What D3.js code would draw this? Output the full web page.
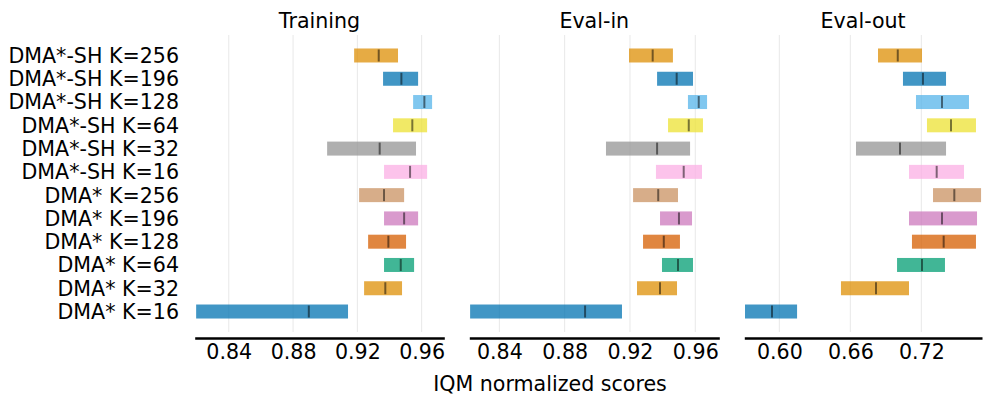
<!DOCTYPE html>
<html>
<head>
<meta charset="utf-8">
<script src="https://cdn.jsdelivr.net/npm/d3@7"></script>
<style>
  body { margin: 0; background: #fff; }
  svg { font-family: "DejaVu Sans", sans-serif; }
</style>
</head>
<body>
<svg id="chart" width="983" height="396"></svg>
<script>
// row labels, top to bottom
const labels = ["DMA*-SH K=256", "DMA*-SH K=196", "DMA*-SH K=128", "DMA*-SH K=64",
    "DMA*-SH K=32", "DMA*-SH K=16", "DMA* K=256", "DMA* K=196", "DMA* K=128",
    "DMA* K=64", "DMA* K=32", "DMA* K=16"];
const colors = ["#DE8F05", "#0173B2", "#56B4E9", "#ECE133", "#949494", "#FBAFE4",
    "#CA9161", "#CC78BC", "#D55E00", "#029E73", "#DE8F05", "#0173B2"];

const titles = ["Training", "Eval-in", "Eval-out"];

// lower CI / median / upper CI per panel
const trainLo = [0.9180, 0.9360, 0.9547, 0.9422, 0.9012, 0.9366, 0.9211, 0.9366, 0.9267, 0.9366, 0.9242, 0.8197];
const trainMed = [0.9333, 0.9474, 0.9617, 0.9542, 0.9339, 0.9528, 0.9366, 0.9491, 0.9393, 0.9470, 0.9374, 0.8898];
const trainHi = [0.9453, 0.9578, 0.9665, 0.9634, 0.9565, 0.9634, 0.9491, 0.9578, 0.9503, 0.9553, 0.9478, 0.9142];

const evalInLo = [0.9194, 0.9366, 0.9555, 0.9433, 0.9053, 0.9359, 0.9219, 0.9384, 0.9280, 0.9396, 0.9243, 0.8221];
const evalInMed = [0.9339, 0.9486, 0.9621, 0.9560, 0.9366, 0.9529, 0.9373, 0.9500, 0.9407, 0.9494, 0.9384, 0.8925];
const evalInHi = [0.9463, 0.9586, 0.9672, 0.9647, 0.9568, 0.9641, 0.9494, 0.9580, 0.9506, 0.9586, 0.9488, 0.9151];

const evalOutLo = [0.6834, 0.7045, 0.7155, 0.7248, 0.6648, 0.7096, 0.7299, 0.7096, 0.7121, 0.6995, 0.6521, 0.5710];
const evalOutMed = [0.7001, 0.7214, 0.7375, 0.7451, 0.7020, 0.7330, 0.7479, 0.7375, 0.7389, 0.7206, 0.6817, 0.5938];
const evalOutHi = [0.7206, 0.7409, 0.7603, 0.7662, 0.7409, 0.7561, 0.7705, 0.7671, 0.7662, 0.7400, 0.7096, 0.6150];

const tickVals = [[0.84, 0.88, 0.92, 0.96], [0.84, 0.88, 0.92, 0.96], [0.60, 0.66, 0.72]];
const domains = [[0.8188, 0.9741], [0.8216, 0.9747], [0.5704, 0.7713]];

const panels = [
    { lo: trainLo, med: trainMed, hi: trainHi, range: [194.7, 444.3] },
    { lo: evalInLo, med: evalInMed, hi: evalInHi, range: [469.3, 719.3] },
    { lo: evalOutLo, med: evalOutMed, hi: evalOutHi, range: [744.3, 982] }
];

const svg = d3.select("#chart");
const fontSize = 20.6;
const gridTop = 35, gridBottom = 332, axisY = 338;
const barH = 14, medH = 12;

const y = d3.scalePoint().domain(labels).range([gridTop, gridBottom]).padding(0.88);

// row labels
svg.append("g").selectAll("text").data(labels).join("text")
    .attr("x", 179)
    .attr("y", d => y(d))
    .attr("dy", "0.36em")
    .attr("text-anchor", "end")
    .attr("font-size", fontSize)
    .attr("fill", "#000")
    .text(d => d);

panels.forEach(function (p, k) {
    let x = d3.scaleLinear().domain(domains[k]).range(p.range);
    let g = svg.append("g");

    // vertical grid
    g.selectAll("line.grid").data(tickVals[k]).join("line")
        .attr("class", "grid")
        .attr("x1", d => x(d)).attr("x2", d => x(d))
        .attr("y1", gridTop).attr("y2", gridBottom)
        .attr("stroke", "#e8e8e8").attr("stroke-width", 1);

    // CI bars
    g.selectAll("rect").data(labels).join("rect")
        .attr("x", (d, i) => x(p.lo[i]))
        .attr("width", (d, i) => x(p.hi[i]) - x(p.lo[i]))
        .attr("y", d => y(d) - barH / 2)
        .attr("height", barH)
        .attr("fill", (d, i) => colors[i])
        .attr("fill-opacity", 0.75);

    // medians
    g.selectAll("line.med").data(labels).join("line")
        .attr("class", "med")
        .attr("x1", (d, i) => x(p.med[i])).attr("x2", (d, i) => x(p.med[i]))
        .attr("y1", d => y(d) - medH / 2).attr("y2", d => y(d) + medH / 2)
        .attr("stroke", "#000").attr("stroke-opacity", 0.5).attr("stroke-width", 2);

    // bottom axis
    let axis = d3.axisBottom(x).tickValues(tickVals[k]).tickSize(0).tickPadding(6)
        .tickFormat(d3.format(".2f"));
    let ag = g.append("g").attr("transform", `translate(0,${axisY})`).call(axis);
    ag.select(".domain").attr("stroke", "#000").attr("stroke-width", 2.5);
    ag.selectAll("text").attr("font-size", fontSize).attr("font-family", "DejaVu Sans").attr("fill", "#000");

    // title
    g.append("text")
        .attr("x", (p.range[0] + p.range[1]) / 2)
        .attr("y", 28)
        .attr("text-anchor", "middle")
        .attr("font-size", fontSize)
        .text(titles[k]);
});

svg.append("text")
    .attr("x", 550)
    .attr("y", 391)
    .attr("text-anchor", "middle")
    .attr("font-size", fontSize)
    .text("IQM normalized scores");
</script>
</body>
</html>
